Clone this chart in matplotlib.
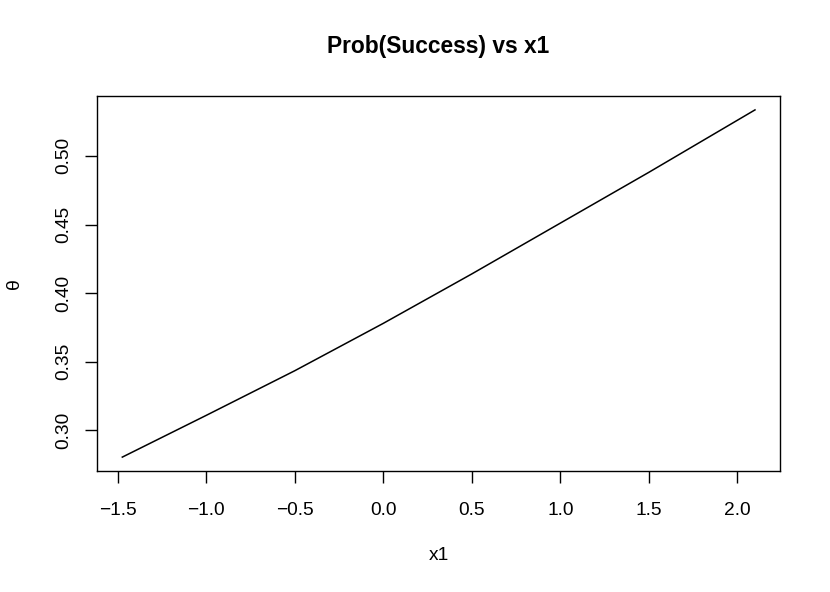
import matplotlib
matplotlib.use("Agg")
import matplotlib.pyplot as plt

# values
x1 = [-1.474, -1.0, -0.5, 0.0, 0.5, 1.0, 1.5, 2.1]
theta = [0.2806, 0.311, 0.3435, 0.378, 0.414, 0.451, 0.488, 0.5335]
xticks = [-1.5, -1.0, -0.5, 0.0, 0.5, 1.0, 1.5, 2.0]
yticks = [0.30, 0.35, 0.40, 0.45, 0.50]

plt.rcParams['font.family'] = ['Liberation Sans', 'DejaVu Sans']
W, H = 830, 592
fig = plt.figure(figsize=(W / 100, H / 100), dpi=100)
ax = fig.add_axes([97 / W, 1 - 471 / H, (780.3 - 97) / W, (471 - 96) / H])

ax.plot(x1, theta, color='black', lw=1.1)

xr = max(x1) - min(x1)
yr = max(theta) - min(theta)
ax.set_xlim(min(x1) - 0.04 * xr, max(x1) + 0.04 * xr)
ax.set_ylim(min(theta) - 0.04 * yr, max(theta) + 0.04 * yr)

ax.set_xticks(xticks)
ax.set_xticklabels([f"{v:.1f}".replace('-', '\u2212') for v in xticks])
ax.set_yticks(yticks)
ax.set_yticklabels([f"{v:.2f}" for v in yticks], rotation=90, va='center')

ax.tick_params(axis='both', length=8.6, width=1.0, labelsize=13.8, color='black')
ax.tick_params(axis='x', pad=13.5)
ax.tick_params(axis='y', pad=9)
for s in ax.spines.values():
    s.set_linewidth(1.0)

fig.text(438.5 / W, 1 - 47 / H, "Prob(Success) vs x1", ha='center', va='center',
         fontsize=16.4, fontweight='bold')
fig.text(438.5 / W, 1 - 555 / H, "x1", ha='center', va='center', fontsize=13.8)
fig.text(14 / W, 1 - 284 / H, "θ", ha='center', va='center', fontsize=14, rotation=90)

fig.savefig("out.png", dpi=100)
